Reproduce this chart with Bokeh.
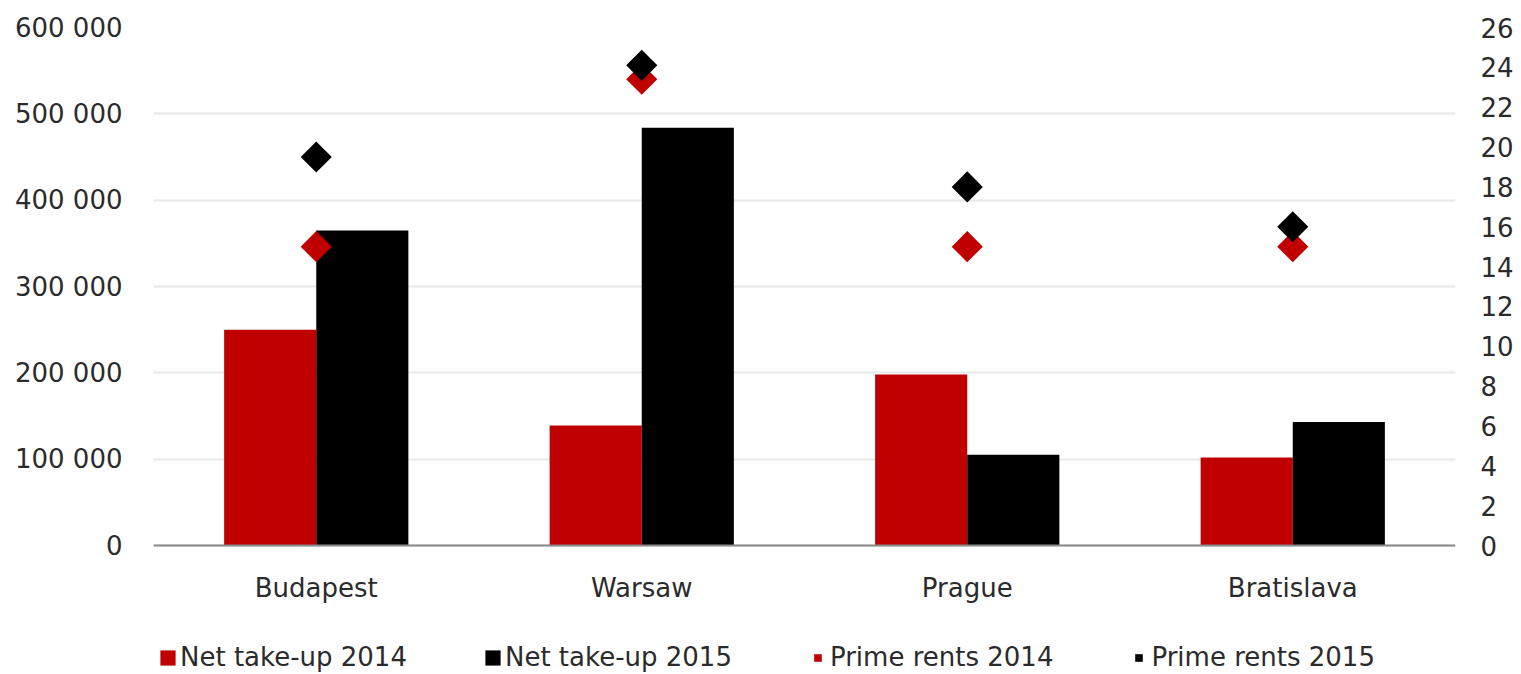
import math
from bokeh.plotting import figure
from bokeh.core.properties import value
from bokeh.models import (ColumnDataSource, Range1d, LinearAxis, FixedTicker, FactorRange,
                          CustomJSTickFormatter, Legend, LegendItem, Span, LabelSet)
from bokeh.transform import dodge
from bokeh.embed import file_html
from bokeh.resources import INLINE

cities = ["Budapest", "Warsaw", "Prague", "Bratislava"]
take_up_2014 = [250000, 139000, 198000, 102000]
take_up_2015 = [365000, 484000, 105000, 143000]
rents_2014 = [15.0, 23.4, 15.0, 15.0]
rents_2015 = [19.5, 24.1, 18.0, 16.0]
left_ticks = [0, 100000, 200000, 300000, 400000, 500000, 600000]
right_ticks = [0, 2, 4, 6, 8, 10, 12, 14, 16, 18, 20, 22, 24, 26]
series_labels = ["Net take-up 2014", "Net take-up 2015", "Prime rents 2014", "Prime rents 2015"]

RED = "#C00000"
BLACK = "#000000"
TEXT = "#2b2b2b"
FONT = "DejaVu Sans"
FS = "26px"

# layout: plotting band is 518 px tall, with a 129 px band below it for the
# category labels and the legend (kept inside the frame so nothing is clipped)
BAND, BELOW = 518, 129
LEFT_MAX, RIGHT_MAX = 600000, 26
left_min = -LEFT_MAX * BELOW / BAND
right_min = -RIGHT_MAX * BELOW / BAND

src = ColumnDataSource(dict(city=cities, t14=take_up_2014, t15=take_up_2015,
                            r14=rents_2014, r15=rents_2015))

p = figure(frame_width=1302, frame_height=BAND + BELOW,
           x_range=FactorRange(factors=cities, range_padding=0),
           y_range=Range1d(left_min, LEFT_MAX), output_backend="svg",
           toolbar_location=None, x_axis_location=None,
           min_border_left=153, min_border_right=66, min_border_top=27,
           min_border_bottom=0)
p.outline_line_color = None
p.background_fill_color = "white"
p.border_fill_color = "white"
p.extra_y_ranges = {"rent": Range1d(right_min, RIGHT_MAX)}

p.xgrid.grid_line_color = None
p.ygrid.grid_line_color = "#e8e8e8"
p.ygrid.grid_line_width = 2
p.ygrid.ticker = FixedTicker(ticks=left_ticks)

bw = 0.283
b14 = p.vbar(x=dodge("city", -bw / 2, range=p.x_range), top="t14", width=bw,
             source=src, fill_color=RED, line_color=None)
b15 = p.vbar(x=dodge("city", bw / 2, range=p.x_range), top="t15", width=bw,
             source=src, fill_color=BLACK, line_color=None)
s14 = p.scatter(x="city", y="r14", source=src, y_range_name="rent", marker="square",
                angle=math.pi / 4, size=22, fill_color=RED, line_color=None)
s15 = p.scatter(x="city", y="r15", source=src, y_range_name="rent", marker="square",
                angle=math.pi / 4, size=22, fill_color=BLACK, line_color=None)

# zero baseline (category axis line)
p.add_layout(Span(location=0, dimension="width", line_color="#8a8a8a", line_width=2))

# category labels under the baseline
p.add_layout(LabelSet(x="city", y=0, text="city", source=src, y_offset=-42,
                      text_align="center", text_baseline="middle",
                      text_font=value(FONT), text_font_size=value(FS), text_color=TEXT))

# axes
yl = p.yaxis[0]
yl.ticker = FixedTicker(ticks=left_ticks)
yl.formatter = CustomJSTickFormatter(code="return tick.toString().replace(/\\B(?=(\\d{3})+(?!\\d))/g, ' ');")
yl.axis_line_color = None
yl.major_tick_line_color = None
yl.major_tick_out = 0
yl.major_tick_in = 0
yl.minor_tick_line_color = None
yl.minor_tick_out = 0
yl.major_label_standoff = 31
yl.major_label_text_font = FONT
yl.major_label_text_font_size = FS
yl.major_label_text_color = TEXT

yr = LinearAxis(y_range_name="rent", ticker=FixedTicker(ticks=right_ticks))
yr.axis_line_color = None
yr.major_tick_line_color = None
yr.major_tick_out = 0
yr.major_tick_in = 0
yr.minor_tick_line_color = None
yr.minor_tick_out = 0
yr.major_label_standoff = 25
yr.major_label_text_font = FONT
yr.major_label_text_font_size = FS
yr.major_label_text_color = TEXT
p.add_layout(yr, "right")

legend = Legend(items=[LegendItem(label=series_labels[0], renderers=[b14]),
                       LegendItem(label=series_labels[1], renderers=[b15]),
                       LegendItem(label=series_labels[2], renderers=[s14]),
                       LegendItem(label=series_labels[3], renderers=[s15])],
                location=(5, 2), orientation="horizontal", padding=0, margin=0,
                spacing=76, glyph_width=19, glyph_height=19, label_standoff=3,
                label_text_font=FONT, label_text_font_size=FS, label_text_color=TEXT,
                border_line_color=None, background_fill_alpha=0)
p.add_layout(legend, "center")

open("out.html", "w").write(file_html(p, INLINE))
